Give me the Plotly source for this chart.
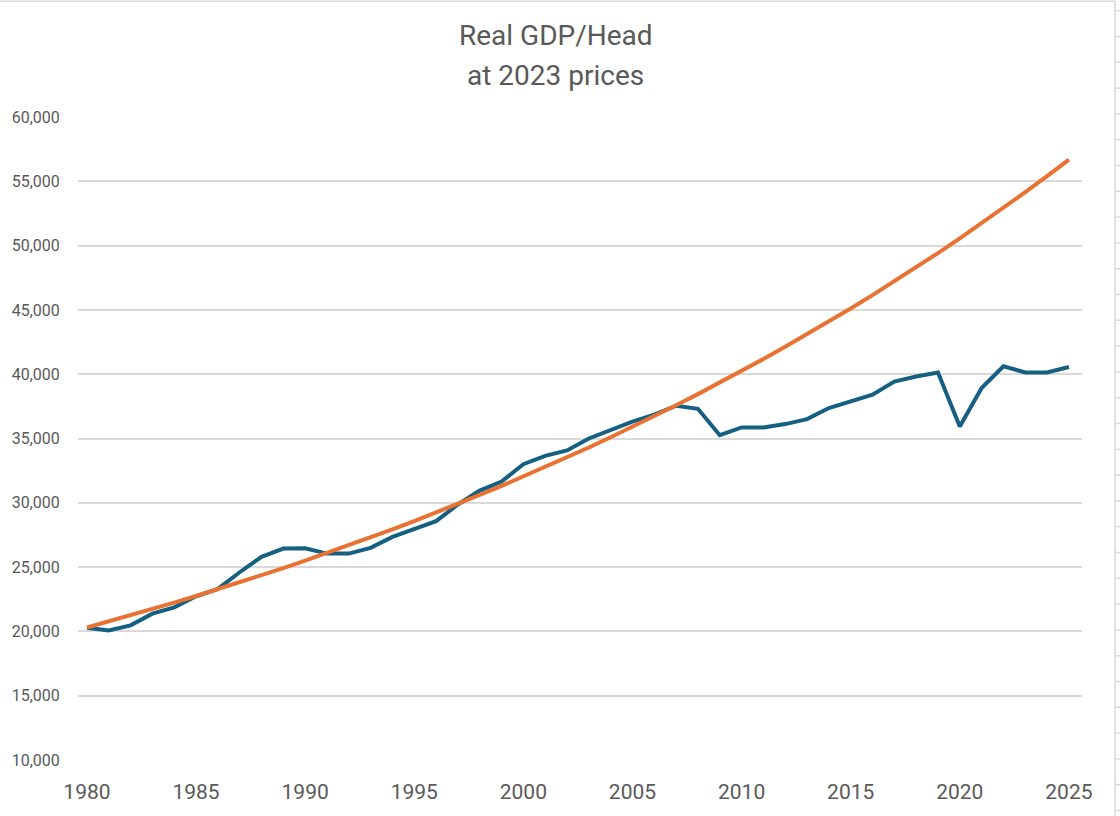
import plotly.graph_objects as go

# Real GDP per head at 2023 prices
years = list(range(1980, 2026))

actual_gdp = [
    20290, 20080, 20470, 21380, 21870, 22730, 23300, 24600, 25800, 26440,
    26470, 26050, 26050, 26500, 27350, 27920, 28570, 29870, 30950, 31650,
    33000, 33650, 34070, 35000, 35620, 36320, 36850, 37550, 37310, 35260,
    35860, 35860, 36120, 36510, 37370, 37900, 38400, 39430, 39820, 40130,
    35930, 38930, 40610, 40140, 40140, 40560,
]

trend_gdp = [
    20300, 20770, 21250, 21740, 22240, 22750, 23280, 23810, 24360, 24920,
    25500, 26090, 26690, 27310, 27940, 28580, 29240, 29920, 30610, 31310,
    32040, 32770, 33530, 34300, 35100, 35910, 36740, 37580, 38450, 39340,
    40250, 41180, 42130, 43100, 44100, 45110, 46150, 47220, 48310, 49420,
    50560, 51730, 52930, 54150, 55400, 56680,
]

x_ticks = [1980, 1985, 1990, 1995, 2000, 2005, 2010, 2015, 2020, 2025]
y_ticks = [10000, 15000, 20000, 25000, 30000, 35000, 40000, 45000, 50000, 55000, 60000]

title_lines = ['Real GDP/Head', 'at 2023 prices']

TEXT_GREY = '#595959'
GRID_GREY = '#d9d9d9'

fig = go.Figure()

fig.add_trace(go.Scatter(
    x=years, y=actual_gdp, mode='lines', name='Actual',
    line=dict(color='#156082', width=4),
))
fig.add_trace(go.Scatter(
    x=years, y=trend_gdp, mode='lines', name='Trend',
    line=dict(color='#E97132', width=4),
))

fig.update_layout(
    width=1120,
    height=816,
    margin=dict(l=78, r=38, t=117, b=56),
    plot_bgcolor='white',
    paper_bgcolor='white',
    showlegend=False,
    font=dict(family='Roboto', color=TEXT_GREY),
    xaxis=dict(
        range=[1979.59, 2025.6],
        tickvals=x_ticks,
        showgrid=False,
        zeroline=False,
        showline=False,
        automargin=False,
        ticks='outside', ticklen=13, tickcolor='rgba(0,0,0,0)',
        tickfont=dict(size=21, color=TEXT_GREY),
    ),
    yaxis=dict(
        range=[10000, 60000],
        tickvals=y_ticks,
        tickformat=',d',
        showgrid=True, gridcolor=GRID_GREY, gridwidth=1.5,
        zeroline=False,
        showline=False,
        automargin=False,
        ticks='outside', ticklen=14, tickcolor='rgba(0,0,0,0)',
        tickfont=dict(size=16, color=TEXT_GREY),
    ),
)

# two-line title with Excel-like line spacing
for text, ypos in zip(title_lines, [1.126, 1.064]):
    fig.add_annotation(
        text=text, xref='paper', yref='paper', x=0.476, y=ypos,
        xanchor='center', yanchor='middle', showarrow=False,
        font=dict(size=28, color=TEXT_GREY, family='Roboto'),
    )

# chart frame (top and right edges as seen in the screenshot)
fig.add_shape(type='line', xref='paper', yref='paper',
              x0=-0.08, x1=1.033, y0=1.180, y1=1.180,
              line=dict(color=GRID_GREY, width=1.5))
fig.add_shape(type='line', xref='paper', yref='paper',
              x0=1.033, x1=1.033, y0=1.180, y1=-0.09,
              line=dict(color=GRID_GREY, width=1.5))

# spreadsheet row lines peeking out to the right of the chart
for i in range(32):
    yrow = (760 - (10.7 + i * 25.8)) / 643
    fig.add_shape(type='line', xref='paper', yref='paper',
                  x0=1.033, x1=1.045, y0=yrow, y1=yrow,
                  line=dict(color=GRID_GREY, width=1.5))

# drop the default body margin so the figure sits at the page origin
fig.write_html("out.html",
               config={'displayModeBar': False},
               post_script="document.body.style.margin='0';document.body.style.overflow='hidden';")
